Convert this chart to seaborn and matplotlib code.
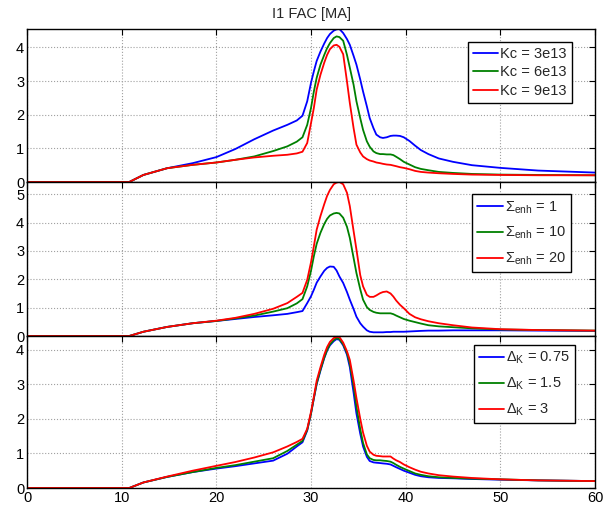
"""
Three stacked panels of I1 FAC [MA] for varying Kc, Sigma_enh and Delta_K.
"""

import numpy as np
import pandas as pd
import seaborn as sns
import matplotlib
matplotlib.use("Agg")
import matplotlib.pyplot as plt

# common x grid
x_grid = [0, 10.8, 12.3, 14.8, 17.5, 20, 22, 24, 26, 27.5, 28.5, 29.1, 29.6, 30.0, 30.3, 30.6,
          31.0, 31.4, 31.7, 32.0, 32.4, 32.7, 33.0, 33.4, 33.8, 34.1, 34.5, 34.8, 35.2, 35.5,
          35.9, 36.2, 36.6, 36.9, 37.3, 37.6, 38.0, 38.4, 38.7, 39.0, 39.4, 39.8, 40.4, 41.0,
          41.6, 42.4, 43.5, 45, 47, 50, 54, 60]

# Panel 1 : Kc
kc_labels = ["Kc = 3e13", "Kc = 6e13", "Kc = 9e13"]
kc_3e13 = [0, 0, 0.21, 0.41, 0.56, 0.74, 0.98, 1.27, 1.53, 1.7, 1.83, 1.97, 2.4, 2.95, 3.29, 3.6,
           3.88, 4.12, 4.28, 4.4, 4.5, 4.54, 4.55, 4.43, 4.25, 4.08, 3.75, 3.49, 3.05, 2.69,
           2.25, 1.9, 1.6, 1.41, 1.33, 1.31, 1.33, 1.37, 1.38, 1.38, 1.37, 1.33, 1.22, 1.08,
           0.95, 0.83, 0.7, 0.6, 0.5, 0.42, 0.34, 0.28]
kc_6e13 = [0, 0, 0.21, 0.41, 0.51, 0.58, 0.66, 0.76, 0.92, 1.06, 1.2, 1.33, 1.7, 2.2, 2.69, 3.1,
           3.49, 3.78, 3.98, 4.13, 4.28, 4.33, 4.31, 4.2, 3.78, 3.4, 2.89, 2.4, 1.9, 1.55,
           1.21, 1.05, 0.91, 0.86, 0.83, 0.83, 0.82, 0.82, 0.8, 0.75, 0.68, 0.6, 0.52, 0.44,
           0.39, 0.35, 0.3, 0.27, 0.24, 0.22, 0.21, 0.2]
kc_9e13 = [0, 0, 0.21, 0.41, 0.51, 0.58, 0.66, 0.73, 0.78, 0.81, 0.85, 0.9, 1.16, 1.75, 2.2, 2.75,
           3.19, 3.55, 3.78, 3.95, 4.06, 4.08, 4.02, 3.8, 2.99, 2.35, 1.6, 1.11, 0.88, 0.76,
           0.68, 0.64, 0.61, 0.58, 0.56, 0.54, 0.52, 0.51, 0.49, 0.47, 0.44, 0.42, 0.38, 0.33,
           0.3, 0.28, 0.26, 0.24, 0.22, 0.21, 0.2, 0.2]

# Panel 2 : Sigma_enh
sig_labels = [r"$\Sigma_{\mathrm{enh}}$ = 1", r"$\Sigma_{\mathrm{enh}}$ = 10", r"$\Sigma_{\mathrm{enh}}$ = 20"]
sig_1 = [0, 0, 0.15, 0.32, 0.45, 0.53, 0.6, 0.67, 0.73, 0.78, 0.84, 0.88, 1.16, 1.4, 1.63, 1.88,
         2.1, 2.3, 2.4, 2.45, 2.44, 2.31, 2.1, 1.87, 1.55, 1.28, 0.95, 0.68, 0.45, 0.33,
         0.2, 0.15, 0.13, 0.13, 0.13, 0.13, 0.14, 0.14, 0.15, 0.15, 0.15, 0.15, 0.16, 0.17,
         0.18, 0.19, 0.19, 0.2, 0.2, 0.2, 0.19, 0.18]
sig_10 = [0, 0, 0.15, 0.32, 0.45, 0.53, 0.62, 0.72, 0.86, 0.98, 1.15, 1.3, 1.75, 2.3, 2.81, 3.25,
          3.64, 3.95, 4.13, 4.25, 4.32, 4.34, 4.32, 4.17, 3.85, 3.46, 2.75, 2.22, 1.65, 1.28,
          1.02, 0.92, 0.85, 0.82, 0.8, 0.8, 0.8, 0.8, 0.77, 0.72, 0.66, 0.6, 0.54, 0.49,
          0.44, 0.38, 0.34, 0.31, 0.27, 0.23, 0.21, 0.19]
sig_20 = [0, 0, 0.15, 0.32, 0.45, 0.54, 0.64, 0.78, 0.96, 1.16, 1.38, 1.52, 1.98, 2.6, 3.16, 3.75,
          4.23, 4.65, 4.94, 5.15, 5.35, 5.41, 5.43, 5.35, 5.05, 4.58, 3.7, 3.05, 2.15, 1.75,
          1.45, 1.38, 1.38, 1.43, 1.51, 1.55, 1.57, 1.5, 1.39, 1.25, 1.1, 0.98, 0.78, 0.66,
          0.59, 0.52, 0.45, 0.38, 0.3, 0.24, 0.21, 0.19]

# Panel 3 : Delta_K
dk_labels = [r"$\Delta_{\mathrm{K}}$ = 0.75", r"$\Delta_{\mathrm{K}}$ = 1.5", r"$\Delta_{\mathrm{K}}$ = 3"]
dk_075 = [0, 0, 0.16, 0.32, 0.46, 0.56, 0.63, 0.71, 0.79, 0.99, 1.2, 1.32, 1.66, 2.15, 2.58, 3.0,
          3.39, 3.75, 3.97, 4.12, 4.24, 4.3, 4.28, 4.12, 3.85, 3.49, 2.75, 2.15, 1.57, 1.2,
          0.9, 0.78, 0.74, 0.73, 0.72, 0.71, 0.7, 0.68, 0.64, 0.6, 0.55, 0.5, 0.44, 0.38,
          0.34, 0.31, 0.29, 0.28, 0.26, 0.24, 0.22, 0.2]
dk_15 = [0, 0, 0.16, 0.32, 0.46, 0.58, 0.66, 0.76, 0.86, 1.07, 1.25, 1.36, 1.68, 2.15, 2.6, 3.02,
         3.42, 3.77, 3.99, 4.15, 4.27, 4.33, 4.3, 4.15, 3.9, 3.59, 2.95, 2.35, 1.7, 1.3,
         0.97, 0.86, 0.81, 0.8, 0.8, 0.79, 0.78, 0.76, 0.72, 0.67, 0.61, 0.56, 0.49, 0.42,
         0.38, 0.34, 0.31, 0.29, 0.27, 0.25, 0.22, 0.2]
dk_3 = [0, 0, 0.16, 0.33, 0.5, 0.64, 0.75, 0.88, 1.03, 1.2, 1.33, 1.42, 1.71, 2.2, 2.63, 3.1,
        3.49, 3.85, 4.07, 4.22, 4.33, 4.36, 4.36, 4.2, 3.95, 3.7, 3.1, 2.6, 2.0, 1.6,
        1.22, 1.05, 0.96, 0.93, 0.92, 0.91, 0.91, 0.91, 0.85, 0.8, 0.75, 0.68, 0.6, 0.53,
        0.47, 0.42, 0.37, 0.33, 0.29, 0.25, 0.22, 0.2]

colors = ["#0000ff", "#008000", "#ff0000"]

sns.set_theme(style="white")
plt.rcParams["font.family"] = ["Liberation Sans", "DejaVu Sans"]
plt.rcParams["mathtext.fontset"] = "custom"
plt.rcParams["mathtext.rm"] = "Liberation Sans"
plt.rcParams["mathtext.it"] = "Liberation Sans"
plt.rcParams["mathtext.bf"] = "Liberation Sans:bold"

fig = plt.figure(figsize=(6.11, 5.05), dpi=100)
fig.patch.set_facecolor("white")

W, H = 611.0, 505.0
left, right = 27 / W, 595 / W
edges = [29, 182, 336, 488]  # pixel rows of panel boundaries

panels = [
    (kc_labels, [kc_3e13, kc_6e13, kc_9e13], 4.55, [0, 1, 2, 3, 4], (0.9595, 0.915), 0.3),
    (sig_labels, [sig_1, sig_10, sig_20], 5.43, [0, 1, 2, 3, 4, 5], (0.958, 0.922), 0.65),
    (dk_labels, [dk_075, dk_15, dk_3], 4.39, [0, 1, 2, 3, 4], (0.965, 0.941), 0.65),
]

axes = []
for i, (labels, series, ymax, yticks, anchor, lspace) in enumerate(panels):
    top, bot = edges[i], edges[i + 1]
    ax = fig.add_axes([left, 1 - bot / H, right - left, (bot - top) / H])
    for lab, vals, c in zip(labels, series, colors):
        df = pd.DataFrame({"x": x_grid, "y": vals})
        sns.lineplot(data=df, x="x", y="y", color=c, lw=1.3, label=lab, ax=ax)
    ax.set_xlim(0, 60)
    ax.set_ylim(0, ymax)
    ax.set_xticks(np.arange(0, 61, 10))
    ax.set_yticks(yticks)
    ax.set_xlabel("")
    ax.set_ylabel("")
    ax.grid(True, linestyle=":", color="#a0a0a0", lw=0.8)
    ax.tick_params(direction="in", length=4, width=0.8, top=True, right=True,
                   labelsize=10.5, colors="black", pad=2)
    for s in ax.spines.values():
        s.set_color("black")
        s.set_linewidth(1.0)
    if i < 2:
        ax.tick_params(labelbottom=False)
    leg = ax.legend(loc="upper right", bbox_to_anchor=anchor, borderaxespad=0,
                    fancybox=False, framealpha=1, edgecolor="black", fontsize=10.5,
                    handlelength=1.75, handletextpad=0.15, labelspacing=lspace,
                    borderpad=0.35)
    leg.get_frame().set_linewidth(1.0)
    axes.append(ax)

axes[0].set_title("I1 FAC [MA]", fontsize=10.5, pad=8)

fig.savefig("out.png", dpi=100, facecolor="white")
